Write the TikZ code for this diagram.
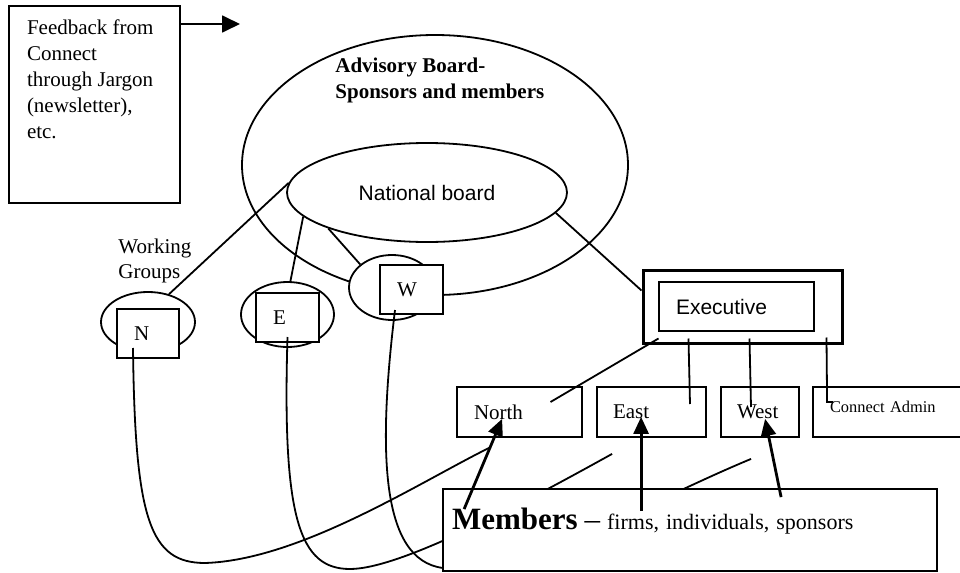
\documentclass[tikz,border=0pt]{standalone}
\usepackage{fontspec}
\setmainfont{Liberation Serif}
\setsansfont{Liberation Sans}
\usetikzlibrary{shapes.geometric, positioning, arrows.meta}

\begin{document}
\begin{tikzpicture}
[x=0.5pt, y=-0.5pt,
baseshape/.style={draw=black, line width=0.9pt, fill=white, inner sep=0pt, font=\fontsize{10.5}{13}\selectfont},
oval/.style={baseshape, ellipse},
group/.style={baseshape, rectangle, minimum height=24.5pt, inner xsep=8.5pt, text width=14.5pt, align=left},
region/.style={baseshape, rectangle, minimum height=25pt, inner xsep=8.5pt, align=left},
link/.style={line width=0.9pt},
arrow/.style={line width=1.4pt, -{Triangle[length=8.5pt, width=7.5pt]}},]
    \useasboundingbox (0,0) rectangle (960,573);

    % feedback note
    \node (fb) [baseshape, inner xsep=9pt, inner ysep=7pt] at (94.5,104.5) {\begin{minipage}[c][84.5pt][t]{67.5pt}\raggedright Feedback from\\ Connect\\ through Jargon\\ (newsletter),\\ etc.\end{minipage}};
    \coordinate (fbtip) at (240,24);
    \draw[line width=0.9pt, -{Triangle[length=9pt, width=8.5pt]}] (fbtip -| fb.east) -- (fbtip);

    % boards
    \node (adv) [oval, fill=none, minimum width=193pt, minimum height=130pt] at (435,165) {};
    \node (advlabel) [anchor=north west, inner sep=0pt, align=left, font=\fontsize{10.5}{13}\selectfont\bfseries] at (335,58) {Advisory Board-\\Sponsors and members};
    \node (nat) [oval, minimum width=140pt, minimum height=49.5pt, font=\fontsize{10.5}{13}\selectfont\sffamily] at (427,192.5) {National board};
    \node (wglabel) [anchor=north west, inner sep=0pt, align=left, font=\fontsize{10.5}{12.5}\selectfont] at (118,239) {Working\\Groups};

    % working groups
    \node (Nell) [oval, minimum width=47pt, minimum height=30pt] at (148,322) {};
    \node (Eell) [oval, minimum width=46.5pt, minimum height=32.5pt] at (287.5,314.5) {};
    \node (Well) [oval, minimum width=43pt, minimum height=32.5pt] at (392,287.5) {};
    \node (Nbox) [group, text width=14pt] at (148,333.5) {N};
    \node (Ebox) [group] at (287.5,317.5) {E};
    \node (Wbox) [group] at (411.5,289.5) {W};
    \draw[link] (nat.176) -- (Nell.53);
    \draw[link] (nat.191) -- (Eell.85);
    \draw[link] (nat.200) -- (Well.144);

    % executive and regions
    \node (execout) [baseshape, line width=1.5pt, minimum width=99.5pt, minimum height=36.5pt] at (742.5,306.5) {};
    \node (execin) [region, minimum height=24.5pt, text width=60.5pt, font=\fontsize{10.5}{13}\selectfont\sffamily] at (736.5,306.5) {Executive};
    \draw[link] (nat.-9) -- ([shift={(0,22)}]execout.north west);
    \node (northbox) [region, text width=45.5pt] at (519.5,412) {North};
    \node (eastbox) [region, text width=38.5pt, inner xsep=8pt] at (651.5,412) {East};
    \node (westbox) [region, text width=23pt, inner xsep=8pt] at (760,412) {West};
    \node (adminbox) [region, text width=57.5pt, font=\fontsize{8.2}{10}\selectfont] at (887.5,412) {\raisebox{2.5pt}[\height][\depth]{Connect Admin}};
    \draw[link] ([shift={(17,-6)}]execout.south west) -- ([shift={(31,-10)}]northbox.center);
    \draw[link] ([shift={(47,-6)}]execout.south west) -- ([shift={(38.5,-8)}]eastbox.center);
    \draw[link] ([shift={(108,-6)}]execout.south west) -- ([shift={(-9,-5)}]westbox.center);
    \draw[link] ([shift={(185,-7)}]execout.south west) -- ([shift={(15,-10)}]adminbox.west) -- ++(6,0);

    % working groups to regions
    \draw[link] ([shift={(-15,14.5)}]Nbox.center) .. controls (135,520) and (150,563) .. (205,563)
        .. controls (300,560) and (420,482) .. ([shift={(33,10)}]northbox.south west);
    \draw[link] ([shift={(0,19.5)}]Ebox.center) .. controls (282,520) and (300,569) .. (350,569)
        .. controls (400,569) and (520,505) .. ([shift={(16,16)}]eastbox.south west);
    \draw[link] ([shift={(-16.5,20.5)}]Wbox.center) .. controls (378,450) and (380,560) .. (443,568)
        .. controls (520,578) and (640,505) .. ([shift={(31,21)}]westbox.south west);

    % members
    \node (members) [baseshape, minimum width=247pt, minimum height=41pt, inner xsep=4.5pt, text width=238pt, align=left] at (690,530)
        {\raisebox{4.5pt}[\height][\depth]{{\fontsize{15.5}{18}\selectfont\bfseries Members} {\fontsize{15.5}{18}\selectfont --} {\fontsize{11}{13}\selectfont firms, individuals, sponsors}}};
    \draw[arrow] ([shift={(22,21)}]members.north west) -- ([shift={(46,-19)}]northbox.south west);
    \draw[arrow] ([shift={(199,23)}]members.north west) -- ([shift={(45,-21)}]eastbox.south west);
    \draw[arrow] ([shift={(339,9)}]members.north west) -- ([shift={(45,-19)}]westbox.south west);
\end{tikzpicture}
\end{document}
